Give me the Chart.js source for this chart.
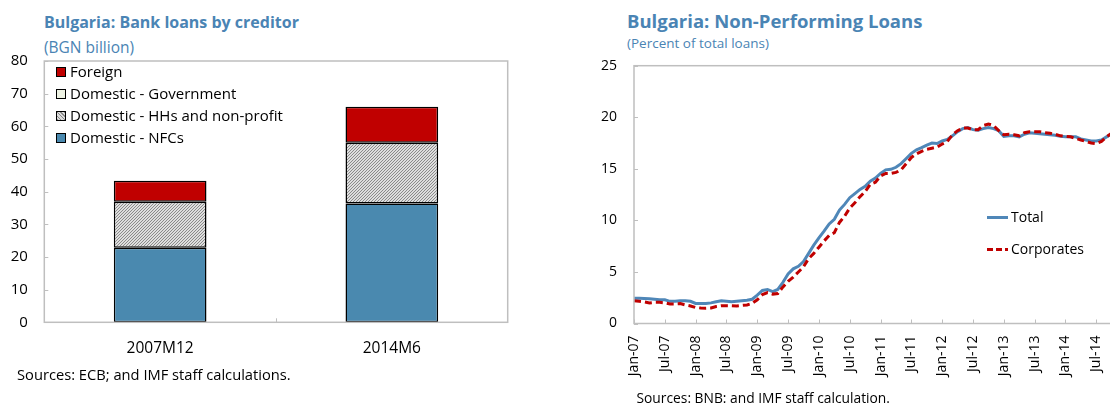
<!DOCTYPE html>
<html>
<head>
<meta charset="utf-8">
<script src="https://cdn.jsdelivr.net/npm/chart.js@4.4.0/dist/chart.umd.min.js"></script>
<style>
  html,body{margin:0;padding:0;background:#fff;}
  body{width:1110px;height:404px;overflow:hidden;position:relative;font-family:"Open Sans",sans-serif;}
  .t{position:absolute;white-space:nowrap;line-height:1;}
  .title{color:#4A84B4;font-weight:bold;}
  .sub{color:#4A84B4;}
  .lg{position:absolute;white-space:nowrap;line-height:1;font-size:15px;color:#000;}
  .box{position:absolute;width:10px;height:10px;border:1.3px solid #000;box-sizing:border-box;}
  canvas{position:absolute;}
</style>
</head>
<body>
<div class="t title" style="left:44px;top:14px;font-size:16px;">Bulgaria: Bank loans by creditor</div>
<div class="t sub" style="left:44px;top:40px;font-size:15.5px;">(BGN billion)</div>
<div class="t title" style="left:627px;top:11.5px;font-size:18.5px;">Bulgaria: Non-Performing Loans</div>
<div class="t sub" style="left:627px;top:36.5px;font-size:13.5px;">(Percent of total loans)</div>

<canvas id="left" width="560" height="404" style="left:0;top:0;"></canvas>
<canvas id="right" width="600" height="404" style="left:560px;top:0;"></canvas>

<!-- left legend -->
<div class="box" style="left:56px;top:67px;background:#C00000;"></div>
<div class="lg" style="left:70px;top:64.3px;">Foreign</div>
<div class="box" style="left:56px;top:89px;background:#EEF3E4;"></div>
<div class="lg" style="left:70px;top:86.3px;">Domestic - Government</div>
<div class="box" style="left:56px;top:111px;background:repeating-linear-gradient(45deg,#8a8a8a 0 1px,#dcdcdc 1px 2.5px);"></div>
<div class="lg" style="left:70px;top:108.3px;">Domestic - HHs and non-profit</div>
<div class="box" style="left:56px;top:133px;background:#4A89AF;"></div>
<div class="lg" style="left:70px;top:130.3px;">Domestic - NFCs</div>

<!-- right legend -->
<div style="position:absolute;left:987px;top:215.5px;width:21px;height:3px;background:#4F87B8;"></div>
<div class="lg" style="left:1011px;top:209.5px;font-size:14px;">Total</div>
<div style="position:absolute;left:987px;top:247.5px;width:21px;height:3px;background:repeating-linear-gradient(90deg,#C00000 0 6px,transparent 6px 9px);"></div>
<div class="lg" style="left:1011px;top:241.5px;font-size:14px;">Corporates</div>

<div class="t" style="left:17px;top:366.7px;font-size:14.7px;">Sources: ECB; and IMF staff calculations.</div>
<div class="t" style="left:636.5px;top:391px;font-size:13.8px;">Sources: BNB: and IMF staff calculation.</div>

<script>
// ---------------- Left chart data ----------------
const barCategories = ['2007M12', '2014M6'];
const nfcLoans = [22.8, 36.4];
const hhLoans = [14.1, 18.6];
const govLoans = [0, 0];
const foreignLoans = [6.4, 11.0];
const leftYMin = 0, leftYMax = 80, leftYStep = 10;

// ---------------- Right chart data ----------------
const months = [
 'Jan-07','Feb-07','Mar-07','Apr-07','May-07','Jun-07','Jul-07','Aug-07','Sep-07','Oct-07','Nov-07','Dec-07',
 'Jan-08','Feb-08','Mar-08','Apr-08','May-08','Jun-08','Jul-08','Aug-08','Sep-08','Oct-08','Nov-08','Dec-08',
 'Jan-09','Feb-09','Mar-09','Apr-09','May-09','Jun-09','Jul-09','Aug-09','Sep-09','Oct-09','Nov-09','Dec-09',
 'Jan-10','Feb-10','Mar-10','Apr-10','May-10','Jun-10','Jul-10','Aug-10','Sep-10','Oct-10','Nov-10','Dec-10',
 'Jan-11','Feb-11','Mar-11','Apr-11','May-11','Jun-11','Jul-11','Aug-11','Sep-11','Oct-11','Nov-11','Dec-11',
 'Jan-12','Feb-12','Mar-12','Apr-12','May-12','Jun-12','Jul-12','Aug-12','Sep-12','Oct-12','Nov-12','Dec-12',
 'Jan-13','Feb-13','Mar-13','Apr-13','May-13','Jun-13','Jul-13','Aug-13','Sep-13','Oct-13','Nov-13','Dec-13',
 'Jan-14','Feb-14','Mar-14','Apr-14','May-14','Jun-14','Jul-14','Aug-14','Sep-14','Oct-14'
];
const nplTotal = [
 2.45,2.45,2.42,2.4,2.35,2.3, 2.3,2.15,2.15,2.2,2.2,2.15,
 1.95,1.93,1.93,2.0,2.1,2.2, 2.15,2.1,2.15,2.2,2.25,2.35,
 2.75,3.2,3.3,3.1,3.3,4.0, 4.8,5.3,5.55,6.0,6.8,7.6,
 8.3,8.95,9.65,10.1,11.0,11.55, 12.2,12.6,13.0,13.3,13.8,14.1,
 14.55,14.9,14.95,15.15,15.5,16.0, 16.5,16.85,17.05,17.3,17.5,17.45,
 17.7,17.85,18.2,18.6,18.9,19.0, 18.8,18.75,18.9,19.0,18.9,18.7,
 18.15,18.2,18.2,18.1,18.35,18.5, 18.45,18.4,18.35,18.3,18.25,18.15,
 18.1,18.1,18.1,17.9,17.8,17.7, 17.7,17.8,18.1,18.4
];
const nplCorporates = [
 2.2,2.15,2.1,2.0,2.05,2.05, 2.0,1.9,1.9,1.93,1.8,1.7,
 1.55,1.5,1.48,1.5,1.65,1.72, 1.73,1.72,1.7,1.75,1.8,1.95,
 2.3,2.8,3.0,2.85,2.9,3.55, 4.1,4.5,5.0,5.5,6.3,6.8,
 7.4,8.0,8.55,8.8,9.8,10.4, 11.2,11.7,12.3,12.8,13.5,13.7,
 14.3,14.55,14.55,14.65,14.9,15.5, 16.1,16.45,16.7,16.9,17.0,17.1,
 17.4,17.65,18.3,18.7,18.95,18.95, 18.8,18.8,19.2,19.35,19.2,18.7,
 18.3,18.35,18.3,18.2,18.5,18.6, 18.6,18.6,18.5,18.45,18.35,18.2,
 18.15,18.1,17.95,17.8,17.65,17.5, 17.45,17.65,18.1,18.45
];
const rightYMin = 0, rightYMax = 25, rightYStep = 5;
const rightLabelEvery = 6;

// ---------------- helpers ----------------
const AXIS_GRAY = '#BFBFBF';
const FONT = '"Open Sans", sans-serif';
Chart.defaults.font.family = FONT;
Chart.defaults.color = '#000';
Chart.defaults.animation = false;

function hatchPattern(ctx) {
  const c = document.createElement('canvas');
  c.width = 3; c.height = 3;
  const g = c.getContext('2d');
  g.fillStyle = '#dedede'; g.fillRect(0, 0, 3, 3);
  g.fillStyle = '#8a8a8a';
  for (let i = 0; i < 3; i++) g.fillRect(i, 2 - i, 1, 1);
  return ctx.createPattern(c, 'repeat');
}

const frameAndTicks = {
  id: 'frameAndTicks',
  afterDatasetsDraw(chart, args, opts) {
    const {ctx, chartArea: a, scales} = chart;
    ctx.save();
    ctx.strokeStyle = AXIS_GRAY;
    ctx.lineWidth = 1.5;
    ctx.strokeRect(a.left, a.top, a.right - a.left, a.bottom - a.top);
    ctx.lineWidth = 1;
    ctx.beginPath();
    const y = scales.y;
    y.ticks.forEach((t, i) => {
      const py = Math.round(y.getPixelForTick(i)) + 0.5;
      ctx.moveTo(a.left, py); ctx.lineTo(a.left + 4, py);
    });
    const x = scales.x;
    if (opts.between) {
      for (let i = 0; i < x.ticks.length - 1; i++) {
        const px = Math.round((x.getPixelForTick(i) + x.getPixelForTick(i + 1)) / 2) + 0.5;
        ctx.moveTo(px, a.bottom); ctx.lineTo(px, a.bottom - 4);
      }
    } else {
      x.ticks.forEach((t, i) => {
        if (i % opts.every === 0) {
          const px = Math.round(x.getPixelForTick(i)) + 0.5;
          ctx.moveTo(px, a.bottom); ctx.lineTo(px, a.bottom - 4);
        }
      });
    }
    ctx.stroke();
    ctx.restore();
  }
};

// ---------------- Left chart ----------------
const lctx = document.getElementById('left').getContext('2d');
const hatch = hatchPattern(lctx);
const barCommon = {borderColor: '#000', borderWidth: 1.5, borderSkipped: false, barPercentage: 0.4, categoryPercentage: 1};
new Chart(lctx, {
  type: 'bar',
  data: {
    labels: barCategories,
    datasets: [
      Object.assign({label: 'Domestic - NFCs', data: nfcLoans, backgroundColor: '#4A89AF'}, barCommon),
      Object.assign({label: 'Domestic - HHs and non-profit', data: hhLoans, backgroundColor: hatch}, barCommon),
      Object.assign({label: 'Domestic - Government', data: govLoans, backgroundColor: '#EEF3E4'}, barCommon),
      Object.assign({label: 'Foreign', data: foreignLoans, backgroundColor: '#C00000'}, barCommon)
    ]
  },
  options: {
    responsive: false,
    devicePixelRatio: 1,
    layout: {padding: {left: 0, top: 61, right: 52.3, bottom: 31.7}},
    plugins: {legend: {display: false}, tooltip: {enabled: false}, frameAndTicks: {between: true}},
    scales: {
      x: {
        stacked: true,
        grid: {display: false, drawTicks: false},
        border: {display: false},
        ticks: {font: {size: 15.5}, padding: 16.5},
        afterFit: s => { s.height = 50; }
      },
      y: {
        stacked: true,
        min: leftYMin, max: leftYMax,
        grid: {display: false, drawTicks: false},
        border: {display: false},
        ticks: {stepSize: leftYStep, font: {size: 15}, padding: 16.5},
        afterFit: s => { s.width = 44.3; }
      }
    }
  },
  plugins: [frameAndTicks]
});

// ---------------- Right chart ----------------
const rctx = document.getElementById('right').getContext('2d');
new Chart(rctx, {
  type: 'line',
  data: {
    labels: months,
    datasets: [
      {label: 'Total', data: nplTotal, borderColor: '#4F87B8', borderWidth: 3, pointRadius: 0, tension: 0, order: 2},
      {label: 'Corporates', data: nplCorporates, borderColor: '#C00000', borderWidth: 3, borderDash: [7, 4], pointRadius: 0, tension: 0, order: 1}
    ]
  },
  options: {
    responsive: false,
    devicePixelRatio: 1,
    layout: {padding: {left: 0, top: 65.7, right: 48.3, bottom: 10.5}},
    plugins: {legend: {display: false}, tooltip: {enabled: false}, frameAndTicks: {between: false, every: rightLabelEvery}},
    scales: {
      x: {
        grid: {display: false, drawTicks: false},
        border: {display: false},
        ticks: {
          autoSkip: false, minRotation: 90, maxRotation: 90, padding: 12, font: {size: 14},
          callback: function(v, i) { return i % rightLabelEvery === 0 ? months[i] : ''; }
        },
        afterFit: s => { s.height = 70; }
      },
      y: {
        min: rightYMin, max: rightYMax,
        grid: {display: false, drawTicks: false},
        border: {display: false},
        ticks: {stepSize: rightYStep, font: {size: 14}, padding: 17},
        afterFit: s => { s.width = 74; }
      }
    }
  },
  plugins: [frameAndTicks]
});
</script>
</body>
</html>
